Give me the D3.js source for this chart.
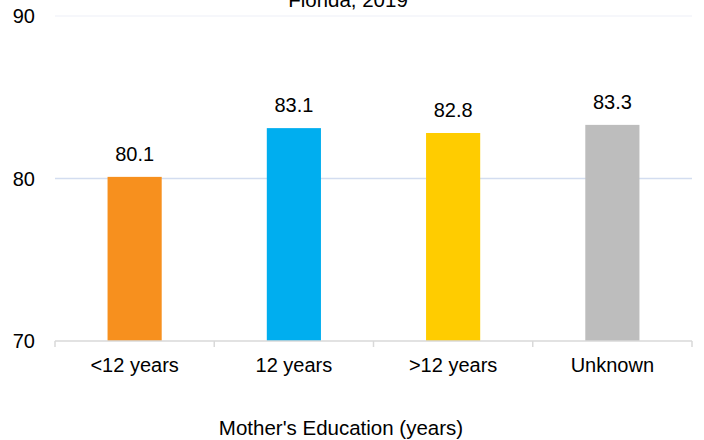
<!DOCTYPE html>
<html>
<head>
<meta charset="utf-8">
<script src="https://cdn.jsdelivr.net/npm/d3@7"></script>
<style>
  body { margin: 0; background: #fff; }
  text { font-family: "Liberation Sans", Arial, sans-serif; fill: #000; }
</style>
</head>
<body>
<svg id="chart" width="704" height="440"></svg>
<script>
const categories = ["<12 years", "12 years", ">12 years", "Unknown"];
const values = [80.1, 83.1, 82.8, 83.3];
const barColors = ["#F7901E", "#00AEEF", "#FFCC00", "#BDBDBD"];
const yTicks = [70, 80, 90];

const svg = d3.select('#chart');
const margin = { left: 55, right: 12, top: 16, bottom: 99 };
const width = 704, height = 440;

const x = d3.scaleBand()
    .domain(categories)
    .range([margin.left, width - margin.right])
    .paddingInner(0.66).paddingOuter(0.33);

const y = d3.scaleLinear()
    .domain([70, 90])
    .range([height - margin.bottom, margin.top]);

// gridlines
svg.selectAll('line.grid')
    .data(yTicks.filter(d => d > 70)).enter()
    .append('line')
    .attr('x1', margin.left)
    .attr('x2', width - margin.right)
    .attr('y1', d => y(d))
    .attr('y2', d => y(d))
    .attr('stroke', d => d == 80 ? '#D3DDF0' : '#F3F5FA')
    .attr('stroke-width', 1.5);

// bars
svg.selectAll('rect')
    .data(values).enter()
    .append('rect')
    .attr('x', (d, i) => x(categories[i]))
    .attr('y', d => y(d))
    .attr('width', x.bandwidth())
    .attr('height', d => y(70) - y(d))
    .attr('fill', (d, i) => barColors[i]);

// value labels
svg.selectAll('text.val')
    .data(values).enter()
    .append('text')
    .attr('class', 'val')
    .attr('x', (d, i) => x(categories[i]) + x.bandwidth() / 2)
    .attr('y', d => y(d) - 16)
    .attr('text-anchor', 'middle')
    .style('font-size', '20px')
    .text(d => d.toFixed(1));

// x axis baseline + ticks at category boundaries
const step = x.step();
const xAxis = svg.append('g');
xAxis.append('line')
    .attr('x1', margin.left).attr('x2', width - margin.right)
    .attr('y1', y(70)).attr('y2', y(70))
    .attr('stroke', '#D9D9D9').attr('stroke-width', 1.5);
xAxis.selectAll('line.tick')
    .data(d3.range(categories.length + 1)).enter()
    .append('line')
    .attr('x1', i => margin.left + i * step)
    .attr('x2', i => margin.left + i * step)
    .attr('y1', y(70)).attr('y2', y(70) + 6)
    .attr('stroke', '#D9D9D9').attr('stroke-width', 1.5);
xAxis.selectAll('text')
    .data(categories).enter()
    .append('text')
    .attr('x', d => x(d) + x.bandwidth() / 2)
    .attr('y', y(70) + 31)
    .attr('text-anchor', 'middle')
    .style('font-size', '20px')
    .text(d => d);

// y tick labels
svg.selectAll('text.ytick')
    .data(yTicks).enter()
    .append('text')
    .attr('class', 'ytick')
    .attr('x', 35)
    .attr('y', d => y(d) + 7)
    .attr('text-anchor', 'end')
    .style('font-size', '20px')
    .text(d => d);

// axis title
svg.append('text')
    .attr('x', 341)
    .attr('y', 435)
    .attr('text-anchor', 'middle')
    .style('font-size', '20.5px')
    .text("Mother's Education (years)");

// chart title (cut off at top)
svg.append('text')
    .attr('x', 348)
    .attr('y', 7)
    .attr('text-anchor', 'middle')
    .style('font-size', '20.5px')
    .text('Florida, 2019');
</script>
</body>
</html>
